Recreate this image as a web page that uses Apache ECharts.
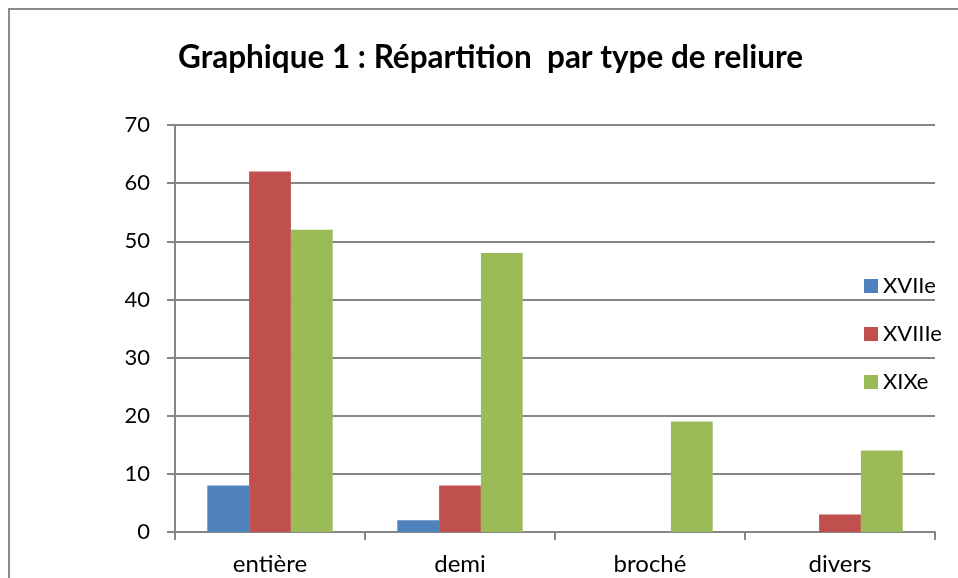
<!DOCTYPE html>
<html>
<head>
    <meta charset="utf-8">
    <title></title>
    <script type="text/javascript" src="https://cdn.jsdelivr.net/npm/echarts@6/dist/echarts.min.js"></script>
    <style>
        html, body { margin: 0; padding: 0; background: #fff; }
    </style>
</head>
<body>

<div id="main" style="width: 958px;height:578px;"></div>
<script type="text/javascript">
    // données
    var categories = ['entière', 'demi', 'broché', 'divers'];
    var seriesNames = ['XVIIe', 'XVIIIe', 'XIXe'];
    var xvii = [8, 2, 0, 0];
    var xviii = [62, 8, 0, 3];
    var xix = [52, 48, 19, 14];
    var yTicks = [0, 10, 20, 30, 40, 50, 60, 70];

    var colors = ['#4F81BD', '#C0504D', '#9BBB59'];
    var font = 'Lato, "Open Sans", sans-serif';

    var myChart = echarts.init(document.getElementById('main'));

    function bar(name, data, i) {
        return {
            name: name,
            type: 'bar',
            data: data,
            barGap: '0%',
            barCategoryGap: '34%',
            itemStyle: { color: colors[i] }
        };
    }

    option = {
        animation: false,
        color: colors,
        title: {
            text: 'Graphique 1 : Répartition  par type de reliure',
            left: 173,
            top: 37,
            textStyle: {
                fontFamily: font,
                fontSize: 31.5,
                fontWeight: 'bold',
                color: '#000'
            }
        },
        graphic: [{
            type: 'rect',
            shape: { x: 9, y: 9, width: 1000, height: 700 },
            style: { fill: 'none', stroke: '#8c8c8c', lineWidth: 2 },
            silent: true
        }],
        legend: {
            orient: 'vertical',
            left: 859,
            top: 270,
            itemWidth: 14,
            itemHeight: 14,
            itemGap: 26,
            icon: 'rect',
            data: seriesNames,
            textStyle: { fontFamily: font, fontSize: 22, lineHeight: 22, color: '#000' }
        },
        grid: {
            left: 175,
            right: 23,
            top: 125,
            bottom: 46
        },
        xAxis: {
            type: 'category',
            data: categories,
            axisLine: { lineStyle: { color: '#868686', width: 2 } },
            axisTick: { show: true, length: 8, lineStyle: { color: '#868686', width: 2 } },
            axisLabel: { margin: 20, fontFamily: font, fontSize: 24, color: '#000' }
        },
        yAxis: {
            type: 'value',
            min: yTicks[0],
            max: yTicks[yTicks.length - 1],
            interval: 10,
            axisLine: { show: true, lineStyle: { color: '#868686', width: 2 } },
            axisTick: { show: true, length: 8, lineStyle: { color: '#868686', width: 2 } },
            splitLine: { lineStyle: { color: '#868686', width: 2 } },
            axisLabel: { margin: 25, fontFamily: font, fontSize: 22, color: '#000' }
        },
        series: [
            bar(seriesNames[0], xvii, 0),
            bar(seriesNames[1], xviii, 1),
            bar(seriesNames[2], xix, 2)
        ]
    };

    myChart.setOption(option);
</script>

</body>
</html>
